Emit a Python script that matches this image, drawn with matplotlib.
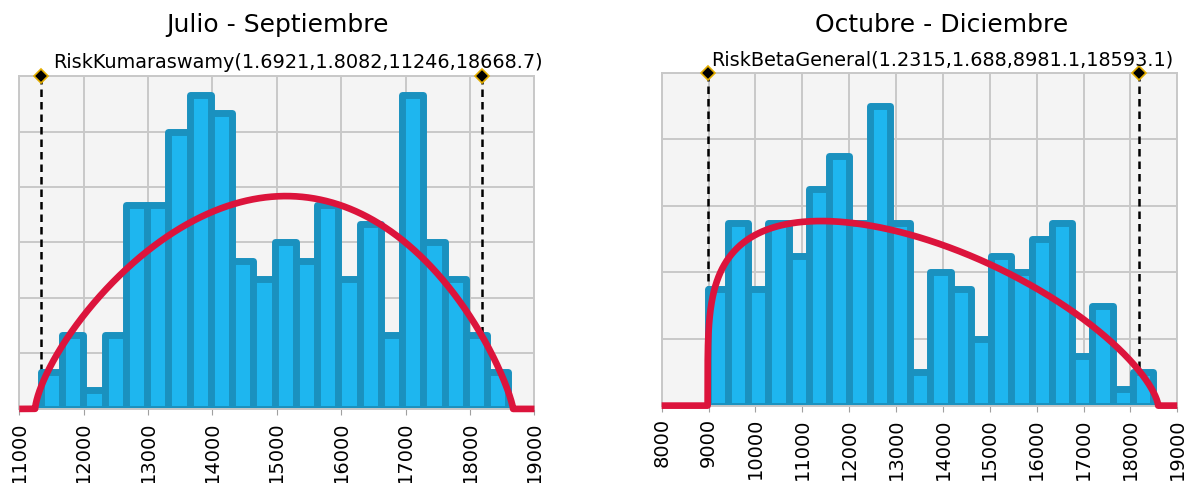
import math
import numpy as np
import matplotlib
matplotlib.use("Agg")
import matplotlib.pyplot as plt

# --- data ---
left_title = "Julio - Septiembre"
left_fit = "RiskKumaraswamy(1.6921,1.8082,11246,18668.7)"
left_counts = [2, 4, 1, 4, 11, 11, 15, 17, 16, 8, 7, 9, 8, 11, 7, 10, 4, 17, 9, 7, 4, 2]
left_bin_start, left_bin_width = 11337, 330
left_params = (1.6921, 1.8082, 11246, 18668.7)   # a, b, min, max
left_marks = [11337, 18180]
left_ticks = list(range(11000, 19001, 1000))

right_title = "Octubre - Diciembre"
right_fit = "RiskBetaGeneral(1.2315,1.688,8981.1,18593.1)"
right_counts = [7, 11, 7, 11, 9, 13, 15, 11, 18, 11, 2, 8, 7, 4, 9, 8, 10, 11, 3, 6, 1, 2]
right_bin_start, right_bin_width = 8981, 432
right_params = (1.2315, 1.688, 8981.1, 18593.1)  # a1, a2, min, max
right_marks = [8992, 18177]
right_ticks = list(range(8000, 19001, 1000))

BAR = '#1eb6ef'
EDGE = '#1a91bf'
RED = '#dc143c'
GRID = '#c8c8c8'


def kumaraswamy(x, a, b, lo, hi):
    u = (x - lo) / (hi - lo)
    y = np.zeros_like(x)
    m = (u > 0) & (u < 1)
    y[m] = a * b * u[m] ** (a - 1) * (1 - u[m] ** a) ** (b - 1) / (hi - lo)
    return y


def beta_general(x, a, b, lo, hi):
    u = (x - lo) / (hi - lo)
    y = np.zeros_like(x)
    m = (u > 0) & (u < 1)
    B = math.gamma(a) * math.gamma(b) / math.gamma(a + b)
    y[m] = u[m] ** (a - 1) * (1 - u[m]) ** (b - 1) / B / (hi - lo)
    return y


def panel(ax, counts, start, width, pdf, params, marks, ticks, ymax, ystep):
    edges = start + width * np.arange(len(counts))
    ax.set_facecolor('#f4f4f4')
    ax.set_xlim(ticks[0], ticks[-1])
    ax.set_ylim(0, ymax)
    ax.set_xticks(ticks)
    ax.set_yticks(np.arange(0, ymax + 0.1, ystep))
    ax.grid(True, color=GRID, linewidth=1.4)
    ax.set_axisbelow(True)
    for s in ax.spines.values():
        s.set_color(GRID)
        s.set_linewidth(1.4)
    ax.tick_params(axis='y', left=False, labelleft=False)
    ax.tick_params(axis='x', direction='out', length=4, color='#a0a0a0',
                   labelsize=14, labelrotation=90, pad=5)

    for m in marks:
        ax.plot([m, m], [0, ymax], color='black', linestyle=(0, (3, 2)),
                linewidth=1.8, zorder=1.5)
        ax.plot([m], [ymax], marker='D', markersize=7, markerfacecolor='black',
                markeredgecolor='#e3ad00', markeredgewidth=1.2, clip_on=False, zorder=6)

    ax.bar(edges, counts, width=width, align='edge', color=BAR, edgecolor=EDGE,
           linewidth=5, joinstyle='round', zorder=2)

    n = sum(counts)
    x = np.concatenate([np.linspace(ticks[0], ticks[-1], 3000),
                        params[2] + (params[3] - params[2]) * np.linspace(0, 1, 2000) ** 3])
    x = np.sort(x)
    y = n * width * pdf(x, *params)
    ax.plot(x, y, color=RED, linewidth=4.8, solid_capstyle='butt', clip_on=False, zorder=5)


fig = plt.figure(figsize=(11.9, 4.83), dpi=100)
ax1 = fig.add_axes([0.0162, 0.1534, 0.4329, 0.6892])
ax2 = fig.add_axes([0.556, 0.1602, 0.4333, 0.6892])

panel(ax1, left_counts, left_bin_start, left_bin_width, kumaraswamy, left_params,
      left_marks, left_ticks, 18, 3)
panel(ax2, right_counts, right_bin_start, right_bin_width, beta_general, right_params,
      right_marks, right_ticks, 20, 4)

fig.text(277.5 / 1190, 1 - 25 / 483, left_title, ha='center', va='center', fontsize=18)
fig.text(53 / 1190, 1 - 62 / 483, left_fit, ha='left', va='center', fontsize=13.9)
fig.text(942 / 1190, 1 - 25 / 483, right_title, ha='center', va='center', fontsize=18)
fig.text(711 / 1190, 1 - 60 / 483, right_fit, ha='left', va='center', fontsize=13.9)

fig.savefig('out.png', dpi=100)
